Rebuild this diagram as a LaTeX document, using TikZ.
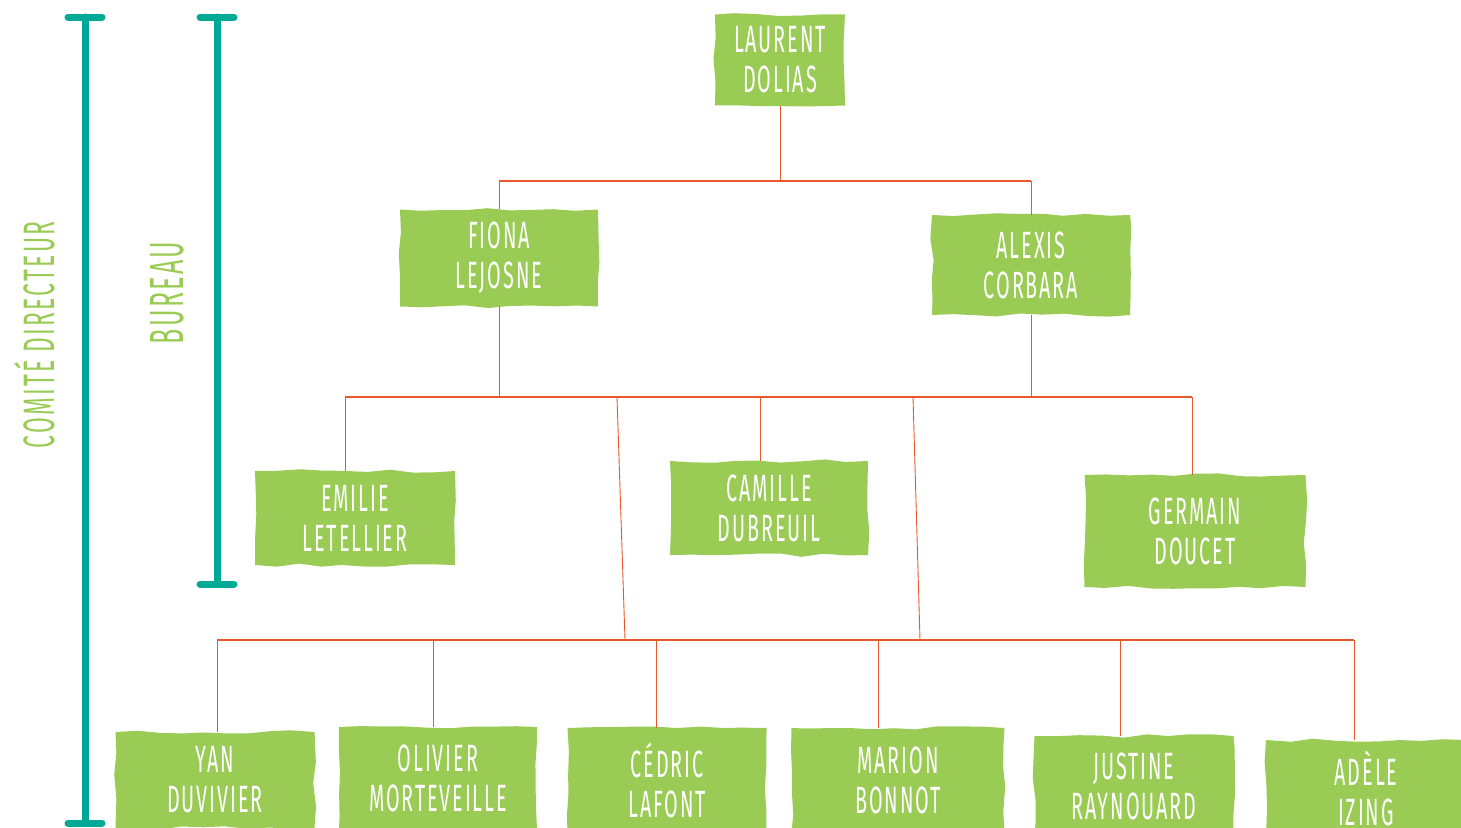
\documentclass[tikz,border=0pt]{standalone}
\usepackage{fontspec}
\setmainfont{Fira Sans}[FakeStretch=0.52,LetterSpace=5]
\usetikzlibrary{decorations.pathmorphing}
\definecolor{leaf}{RGB}{154,203,85}
\definecolor{brick}{RGB}{233,88,42}
\definecolor{lagoon}{RGB}{0,168,150}

\begin{document}
\begin{tikzpicture}[x=1pt,y=-1pt,
    tag/.style 2 args={fill=leaf,text=white,align=center,inner sep=0pt,
      minimum width=#1,minimum height=#2,
      font=\fontsize{38}{40}\selectfont,
      decorate,decoration={random steps,segment length=22pt,amplitude=1.8pt}},
    wire/.style={brick,line width=0.9pt},
    bar/.style={brick,line width=2.6pt},
    bracket/.style={lagoon,line width=7pt,line cap=round},
    side/.style={text=leaf,rotate=90}]
  \pgfmathsetseed{11}
  \useasboundingbox (0,0) rectangle (1461,827);
  % board
  \node[tag={130}{91}]  (laurent) at (780,60)   {LAURENT\\DOLIAS};
  \node[tag={198}{97}]  (fiona)   at (499,258)  {FIONA\\LEJOSNE};
  \node[tag={198}{100}] (alexis)  at (1031,265) {ALEXIS\\CORBARA};
  \node[tag={200}{94}]  (emilie)  at (355,518)  {EMILIE\\LETELLIER};
  \node[tag={198}{94}]  (camille) at (769,508)  {CAMILLE\\DUBREUIL};
  \node[tag={221}{112}] (germain) at (1195,531) {GERMAIN\\DOUCET};
  % committee, last row
  \node[tag={199}{96}]  (yan)     at (215,780)  {YAN\\DUVIVIER};
  \node[tag={198}{102}] (olivier) at (438,778)  {OLIVIER\\MORTEVEILLE};
  \node[tag={199}{104}] (cedric)  at (667,780)  {CÉDRIC\\LAFONT};
  \node[tag={213}{104}] (marion)  at (898,780)  {MARION\\BONNOT};
  \node[tag={199}{100}] (justine) at (1134,786) {JUSTINE\\RAYNOUARD};
  \node[tag={200}{96}]  (adele)   at (1366,788) {ADÈLE\\IZING};
  % bars
  \coordinate (bar1) at (0,181);
  \coordinate (bar2) at (0,397);
  \coordinate (bar3) at (0,640);
  \coordinate (d1) at (617,397);
  \coordinate (d2) at (913,397);
  \draw[bar] (fiona.north |- bar1) -- (alexis.north |- bar1);
  \draw[bar] ([xshift=-10pt]emilie.north |- bar2) -- ([xshift=-3pt]germain.north |- bar2);
  \draw[bar] ([xshift=2pt]yan.north |- bar3) -- ([xshift=-12pt]adele.north |- bar3);
  % drops
  \draw[wire] (laurent.south) -- (laurent.south |- bar1);
  \draw[wire] (fiona.north |- bar1) -- (fiona.north);
  \draw[wire] (alexis.north |- bar1) -- (alexis.north);
  \draw[wire] (fiona.south) -- (fiona.south |- bar2);
  \draw[wire] (alexis.south) -- (alexis.south |- bar2);
  \draw[wire] ([xshift=-10pt]emilie.north |- bar2) -- ([xshift=-10pt]emilie.north);
  \draw[wire] ([xshift=-9pt]camille.north |- bar2) -- ([xshift=-9pt]camille.north);
  \draw[wire] ([xshift=-3pt]germain.north |- bar2) -- ([xshift=-3pt]germain.north);
  \draw[wire] (d1) -- ([xshift=8pt]d1 |- bar3);
  \draw[wire] (d2) -- ([xshift=7pt]d2 |- bar3);
  \draw[wire] ([xshift=2pt]yan.north |- bar3) -- ([xshift=2pt]yan.north);
  \draw[wire] ([xshift=-5pt]olivier.north |- bar3) -- ([xshift=-5pt]olivier.north);
  \draw[wire] ([xshift=-11pt]cedric.north |- bar3) -- ([xshift=-11pt]cedric.north);
  \draw[wire] ([xshift=-20pt]marion.north |- bar3) -- ([xshift=-20pt]marion.north);
  \draw[wire] ([xshift=-14pt]justine.north |- bar3) -- ([xshift=-14pt]justine.north);
  \draw[wire] ([xshift=-12pt]adele.north |- bar3) -- ([xshift=-12pt]adele.north);
  % brackets
  \draw[bracket] (68,17) -- (102,17) (85,17) -- (85,823) (68,823) -- (102,823);
  \draw[bracket] (200,17) -- (234,17) (217,17) -- (217,584) (200,584) -- (234,584);
  \node[side,font=\fontsize{44}{44}\selectfont] (comite) at (35,335) {COMITÉ DIRECTEUR};
  \node[side,font=\fontsize{48}{48}\selectfont] (bureau) at (167,293) {BUREAU};
\end{tikzpicture}
\end{document}
